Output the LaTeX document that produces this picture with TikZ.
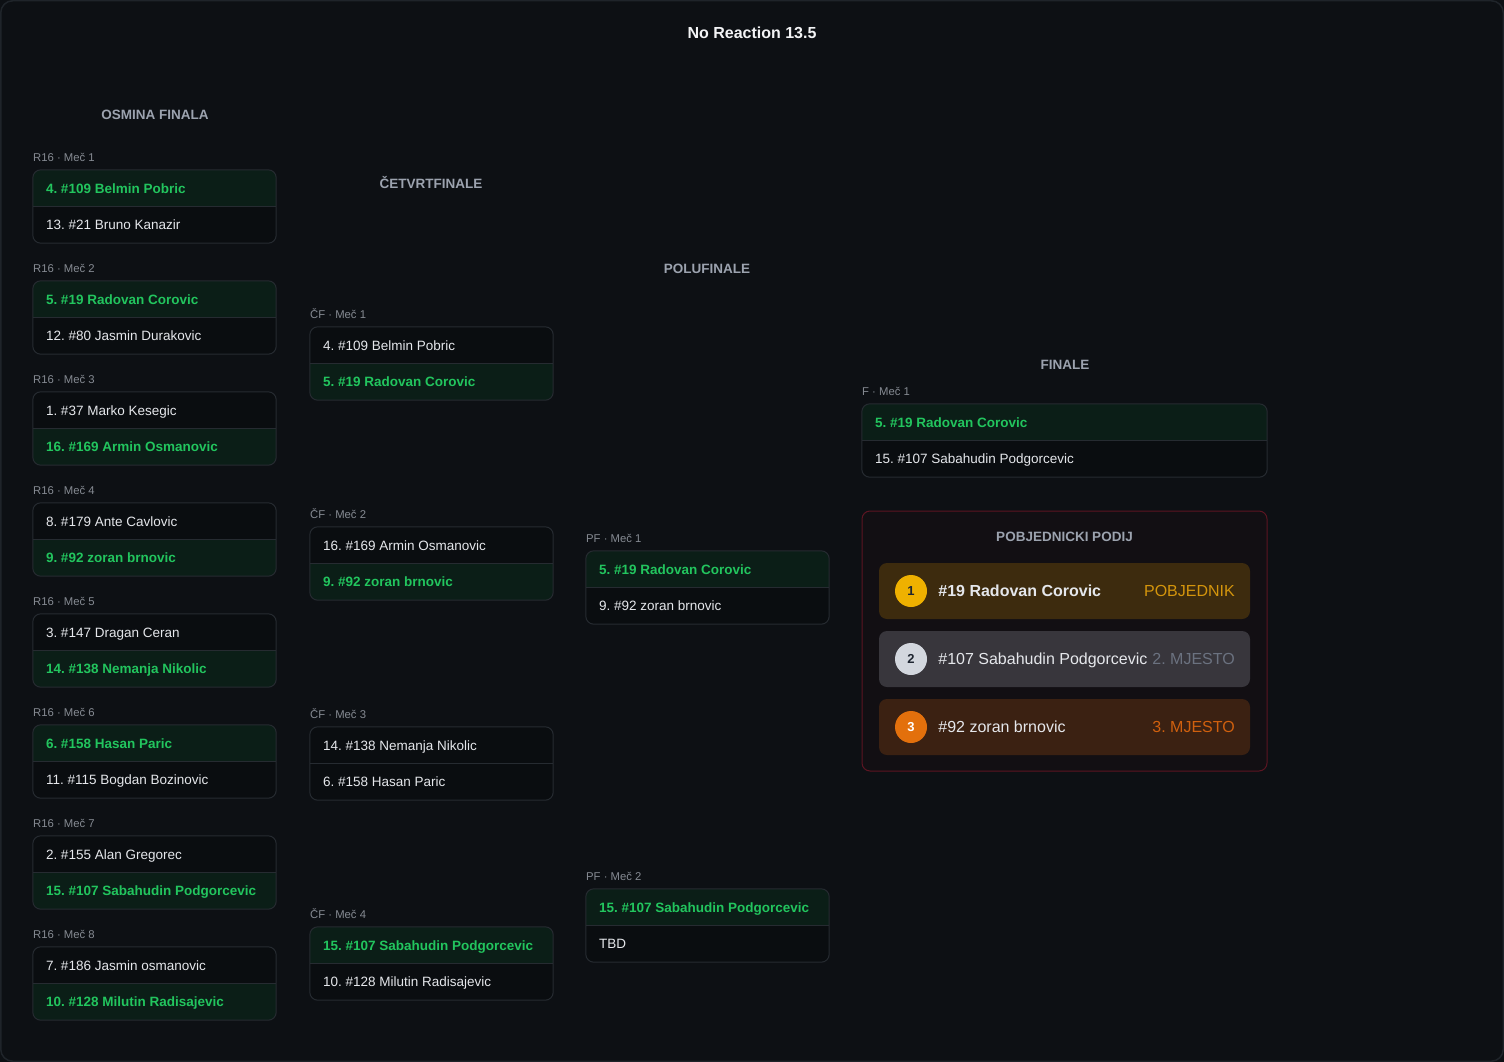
\documentclass[tikz,border=0pt]{standalone}
\usepackage{fontspec}
\setmainfont{Liberation Sans}
\usetikzlibrary{positioning}
\frenchspacing

\definecolor{pagebg}{HTML}{0D1014}
\definecolor{pageedge}{HTML}{1F242A}
\definecolor{celledge}{HTML}{262B31}
\definecolor{wingreen}{HTML}{0B1E17}
\definecolor{losedark}{HTML}{0A0D10}
\definecolor{wintxt}{HTML}{22C55E}
\definecolor{losetxt}{HTML}{E5E7EB}
\definecolor{taggray}{HTML}{868B93}
\definecolor{headgray}{HTML}{9CA3AF}
\definecolor{titlewhite}{HTML}{F3F4F6}
\definecolor{podiumbg}{HTML}{120F13}
\definecolor{podiumedge}{HTML}{5C1522}
\definecolor{goldrow}{HTML}{3D2B0E}
\definecolor{golddisc}{HTML}{EFB100}
\definecolor{goldtxt}{HTML}{D4950C}
\definecolor{silverrow}{HTML}{38363C}
\definecolor{silverdisc}{HTML}{D3D7DE}
\definecolor{silvertxt}{HTML}{6B7280}
\definecolor{bronzerow}{HTML}{3B2112}
\definecolor{bronzedisc}{HTML}{E3700C}
\definecolor{bronzetxt}{HTML}{D0600E}
\definecolor{discnum}{HTML}{1E2530}

\tikzset{
  roundtag/.style = {inner sep = 0pt, anchor = west, text = taggray, font = {\fontsize{11.3}{13}\selectfont}, text height = 8pt, text depth = 0pt},
  roundhead/.style = {inner sep = 0pt, text = headgray, font = {\fontsize{13.5}{16}\selectfont\bfseries}},
  rowcell/.style = {rectangle, inner sep = 0pt, minimum height = 36.5pt},
  winrow/.style = {rowcell, fill = wingreen},
  loserow/.style = {rowcell, fill = losedark},
  winname/.style = {inner sep = 0pt, text = wintxt, font = {\fontsize{13.5}{16}\selectfont\bfseries}, text height = 9.7pt, text depth = 0pt},
  losename/.style = {inner sep = 0pt, text = losetxt, font = {\fontsize{13.5}{16}\selectfont}, text height = 9.7pt, text depth = 0pt},
  cellframe/.style = {draw = celledge, line width = 1pt, rounded corners = 8pt},
  podiumbox/.style = {rectangle, rounded corners = 8pt, draw = podiumedge, line width = 1pt, fill = podiumbg, minimum width = 405pt, minimum height = 260pt},
  podrow/.style = {rectangle, rounded corners = 8pt, minimum width = 371pt, minimum height = 56pt},
  poddisc/.style = {circle, inner sep = 0pt, minimum size = 32pt, font = {\fontsize{13}{15}\selectfont\bfseries}},
  podname/.style = {inner sep = 0pt, text = losetxt, font = {\fontsize{16}{19}\selectfont}, text height = 11.5pt, text depth = 0pt},
  podtag/.style = {inner sep = 0pt, anchor = east, font = {\fontsize{16}{19}\selectfont}, text height = 11.5pt, text depth = 0pt}
}

\newcommand{\duel}[9]{%
  \node[roundtag] (#1l) at (#2, #3 - 13) {#5};
  \begin{scope}
    \clip[rounded corners = 8pt] (#2, #3) rectangle ++(#4, 73);
    \node[#6row, minimum width = #4pt] (#1a) at (#2 + #4/2, #3 + 18.25) {};
    \node[#8row, minimum width = #4pt] (#1b) at (#2 + #4/2, #3 + 54.75) {};
  \end{scope}
  \node[#6name, right = 13pt of #1a.west] (#1at) {#7};
  \node[#8name, right = 13pt of #1b.west] (#1bt) {#9};
  \draw[cellframe] (#1a.north west) rectangle (#1b.south east);
  \draw[draw = celledge, line width = 1pt] (#1a.south west) -- (#1a.south east);
}

\begin{document}
\begin{tikzpicture}[x = 1pt, y = -1pt]

\useasboundingbox (0, 0) rectangle (1504, 1062);
\fill[pagebg] (0, 0) rectangle (1504, 1062);
\draw[pageedge, line width = 1.5pt, rounded corners = 12pt] (0.75, 0.75) rectangle (1503.25, 1061.25);

\node[inner sep = 0pt, text = titlewhite, font = {\fontsize{16}{19}\selectfont\bfseries}] (title) at (752, 33) {No Reaction 13.5};

\node[roundhead] (r16head) at (155, 115) {OSMINA FINALA};
\node[roundhead] (qfhead) at (431, 183) {ČETVRTFINALE};
\node[roundhead] (sfhead) at (707, 269) {POLUFINALE};
\node[roundhead] (fhead) at (1065, 365) {FINALE};

\duel{m1}{33}{170}{243}{R16 · Meč 1}{win}{4. \#109 Belmin Pobric}{lose}{13. \#21 Bruno Kanazir}
\duel{m2}{33}{281}{243}{R16 · Meč 2}{win}{5. \#19 Radovan Corovic}{lose}{12. \#80 Jasmin Durakovic}
\duel{m3}{33}{392}{243}{R16 · Meč 3}{lose}{1. \#37 Marko Kesegic}{win}{16. \#169 Armin Osmanovic}
\duel{m4}{33}{503}{243}{R16 · Meč 4}{lose}{8. \#179 Ante Cavlovic}{win}{9. \#92 zoran brnovic}
\duel{m5}{33}{614}{243}{R16 · Meč 5}{lose}{3. \#147 Dragan Ceran}{win}{14. \#138 Nemanja Nikolic}
\duel{m6}{33}{725}{243}{R16 · Meč 6}{win}{6. \#158 Hasan Paric}{lose}{11. \#115 Bogdan Bozinovic}
\duel{m7}{33}{836}{243}{R16 · Meč 7}{lose}{2. \#155 Alan Gregorec}{win}{15. \#107 Sabahudin Podgorcevic}
\duel{m8}{33}{947}{243}{R16 · Meč 8}{lose}{7. \#186 Jasmin osmanovic}{win}{10. \#128 Milutin Radisajevic}

\duel{q1}{310}{327}{243}{ČF · Meč 1}{lose}{4. \#109 Belmin Pobric}{win}{5. \#19 Radovan Corovic}
\duel{q2}{310}{527}{243}{ČF · Meč 2}{lose}{16. \#169 Armin Osmanovic}{win}{9. \#92 zoran brnovic}
\duel{q3}{310}{727}{243}{ČF · Meč 3}{lose}{14. \#138 Nemanja Nikolic}{lose}{6. \#158 Hasan Paric}
\duel{q4}{310}{927}{243}{ČF · Meč 4}{win}{15. \#107 Sabahudin Podgorcevic}{lose}{10. \#128 Milutin Radisajevic}

\duel{s1}{586}{551}{243}{PF · Meč 1}{win}{5. \#19 Radovan Corovic}{lose}{9. \#92 zoran brnovic}
\duel{s2}{586}{889}{243}{PF · Meč 2}{win}{15. \#107 Sabahudin Podgorcevic}{lose}{TBD}

\duel{f1}{862}{404}{405}{F · Meč 1}{win}{5. \#19 Radovan Corovic}{lose}{15. \#107 Sabahudin Podgorcevic}

\node[podiumbox] (podium) at (1064.5, 641) {};
\node[roundhead] (podiumhead) at (1064.5, 537) {POBJEDNICKI PODIJ};

\node[podrow, fill = goldrow] (first) at (1064.5, 591) {};
\node[poddisc, fill = golddisc, text = discnum] (firstdisc) at (911, 591) {1};
\node[podname, font = {\fontsize{16}{19}\selectfont\bfseries}, right = 11pt of firstdisc] (firstname) {\#19 Radovan Corovic};
\node[podtag, text = goldtxt] (firsttag) at (1235, 591) {POBJEDNIK};

\node[podrow, fill = silverrow] (second) at (1064.5, 659) {};
\node[poddisc, fill = silverdisc, text = discnum] (seconddisc) at (911, 659) {2};
\node[podname, right = 11pt of seconddisc] (secondname) {\#107 Sabahudin Podgorcevic};
\node[podtag, text = silvertxt] (secondtag) at (1235, 659) {2. MJESTO};

\node[podrow, fill = bronzerow] (third) at (1064.5, 727) {};
\node[poddisc, fill = bronzedisc, text = white] (thirddisc) at (911, 727) {3};
\node[podname, right = 11pt of thirddisc] (thirdname) {\#92 zoran brnovic};
\node[podtag, text = bronzetxt] (thirdtag) at (1235, 727) {3. MJESTO};

\end{tikzpicture}
\end{document}
